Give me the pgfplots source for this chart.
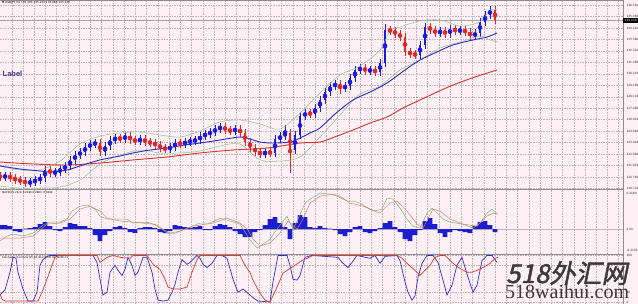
\documentclass[border=0pt]{standalone}
\usepackage{pgfplots}
\pgfplotsset{compat=1.18}
\usepackage{pgfplotstable}
\usepackage{fontspec}
\setmainfont{DejaVu Sans}
\newfontfamily\labfont{Liberation Sans}
\newfontfamily\cjk[FakeSlant=0.2,FakeBold=1.5]{Noto Sans CJK SC}
\newfontfamily\wserif{Liberation Serif}

\definecolor{bgc}{HTML}{FFF0F5}
\definecolor{gridc}{HTML}{BDB5B9}
\definecolor{upc}{HTML}{1A1AE6}
\definecolor{dnc}{HTML}{E02828}
\definecolor{mab}{HTML}{2A2ACC}
\definecolor{mar}{HTML}{D8342C}
\definecolor{bandc}{HTML}{8FC48F}
\definecolor{histc}{HTML}{1C1CD0}
\definecolor{macdg}{HTML}{6CBF6C}
\definecolor{macdr}{HTML}{E07A7A}
\definecolor{stb}{HTML}{2E2ED0}
\definecolor{str}{HTML}{E03A30}
\definecolor{sepc}{HTML}{8C8C8C}
\definecolor{labc}{HTML}{3B3B8A}
\definecolor{wmc}{HTML}{3A3A3A}

\pgfplotstableread{
x o h l c
5 120.76 121.20 120.41 120.85
30 120.21 120.65 119.86 120.30
35 120.30 120.83 119.95 120.48
40 120.48 121.02 120.13 120.67
45 120.67 121.75 120.32 121.40
55 121.12 121.57 120.77 121.22
60 121.22 121.84 120.87 121.49
65 121.49 122.12 121.14 121.77
70 121.77 122.67 121.42 122.32
75 122.32 123.12 121.97 122.77
80 122.77 123.40 122.42 123.05
85 123.05 123.86 122.70 123.51
90 123.51 124.13 123.16 123.78
95 123.78 124.22 123.43 123.87
105 123.05 123.95 122.70 123.60
110 123.60 124.50 123.25 124.15
115 124.15 124.68 123.80 124.33
125 124.24 124.86 123.89 124.51
140 124.06 124.59 123.71 124.24
170 123.32 123.86 122.97 123.51
175 123.51 124.22 123.16 123.87
185 123.78 124.31 123.43 123.96
190 123.96 124.41 123.61 124.06
195 124.06 124.50 123.71 124.15
200 124.15 124.86 123.80 124.51
205 124.51 125.05 124.16 124.70
210 124.70 125.23 124.35 124.88
215 124.88 125.51 124.53 125.16
220 125.16 125.69 124.81 125.34
235 124.97 125.51 124.62 125.16
265 122.86 123.40 122.51 123.05
275 122.96 124.59 122.61 124.24
280 124.24 124.86 123.89 124.51
285 124.51 125.52 124.16 124.79
295 123.23 124.96 122.88 124.61
300 124.61 126.70 124.26 126.35
305 126.35 126.97 126.00 126.62
315 126.53 127.43 126.18 127.08
320 127.08 128.16 126.73 127.81
325 127.81 128.89 127.46 128.54
330 128.54 129.44 128.19 129.09
335 129.09 129.63 128.74 129.28
345 128.91 129.44 128.56 129.09
350 129.09 130.18 128.74 129.83
355 129.83 130.91 129.48 130.56
360 130.56 131.09 130.21 130.74
370 130.47 130.91 130.12 130.56
380 130.38 131.55 130.03 131.20
385 131.20 134.77 130.85 134.22
420 131.93 133.20 131.58 132.85
425 132.85 134.85 132.50 134.50
440 133.95 134.48 133.60 134.13
450 133.86 134.66 133.51 134.31
460 134.13 134.57 133.78 134.22
475 133.67 134.30 133.32 133.95
480 133.95 135.31 133.60 134.96
485 134.96 135.95 134.61 135.60
490 135.60 136.40 135.25 136.05
}\upbars

\pgfplotstableread{
x o h l c
0 120.85 121.20 120.41 120.76
10 120.85 121.20 120.32 120.67
15 120.67 121.02 120.13 120.48
20 120.48 120.83 120.04 120.39
25 120.39 120.74 119.86 120.21
50 121.40 121.75 120.77 121.12
100 123.87 124.22 122.70 123.05
120 124.33 124.68 123.89 124.24
130 124.51 124.86 123.80 124.15
135 124.15 124.50 123.71 124.06
145 124.24 124.59 123.61 123.96
150 123.96 124.31 123.52 123.87
155 123.87 124.22 123.34 123.69
160 123.69 124.04 123.06 123.41
165 123.41 123.76 122.97 123.32
180 123.87 124.22 123.43 123.78
225 125.34 125.69 124.71 125.06
230 125.06 125.41 124.62 124.97
240 125.16 125.51 124.44 124.79
245 124.79 125.14 123.61 123.96
250 123.96 124.31 123.06 123.41
255 123.41 123.76 122.70 123.05
260 123.05 123.40 122.51 122.86
270 123.05 123.40 122.61 122.96
290 124.79 125.14 121.12 123.23
310 126.62 126.97 126.18 126.53
340 129.28 129.63 128.36 128.91
365 130.74 131.09 130.12 130.47
375 130.56 130.91 130.03 130.38
390 134.22 134.57 133.78 134.13
395 134.13 134.48 133.51 133.86
400 133.86 134.21 133.23 133.58
405 133.58 133.93 131.86 132.21
410 132.21 132.56 131.66 132.02
415 132.02 132.37 131.58 131.93
430 134.50 134.85 133.87 134.22
435 134.22 134.57 133.60 133.95
445 134.13 134.48 133.51 133.86
455 134.31 134.66 133.78 134.13
465 134.22 134.57 133.69 134.04
470 134.04 134.39 133.31 133.67
495 136.05 136.40 134.79 135.14
}\dnbars

\pgfplotstableread{
x v
0 0.046
5 0.046
10 0.034
15 -0.023
20 -0.034
25 0.006
30 0.011
35 0.023
40 0.057
45 0.080
50 0.034
55 -0.011
60 -0.023
65 0.023
70 0.069
75 0.057
80 0.034
85 0.034
90 0.011
95 -0.069
100 -0.137
105 -0.069
110 -0.023
115 0.023
120 0.034
125 0.011
130 -0.034
135 -0.046
140 0.011
145 0.023
150 0.023
155 0.011
160 -0.034
165 -0.046
170 -0.023
175 0.046
180 0.034
185 0.023
190 0.011
195 0.023
200 0.034
205 -0.011
210 -0.011
215 0.034
220 0.057
225 0.046
230 0.023
235 -0.023
240 -0.057
245 -0.092
250 -0.092
255 -0.034
260 -0.011
265 0.046
270 0.115
275 0.137
280 0.069
285 0.023
290 -0.115
295 0.069
300 0.160
305 0.137
310 0.023
315 0.011
320 0.034
325 0.011
330 0.006
335 -0.011
340 -0.057
345 -0.080
350 -0.034
355 0.023
360 0.034
365 -0.034
370 -0.046
375 -0.023
380 0.011
385 0.069
390 0.092
395 0.023
400 -0.034
405 -0.115
410 -0.137
415 -0.069
420 -0.011
425 0.092
430 0.126
435 0.057
440 -0.046
445 -0.092
450 -0.034
455 -0.011
460 -0.023
465 -0.034
470 -0.046
475 0.034
480 0.080
485 0.092
490 0.046
495 -0.034
}\hist

\pgfplotsset{panel/.style={scale only axis, width=623pt, xmin=0, xmax=623,
  axis line style={draw=none}, major tick length=0pt,
  xtick={11.7,22.94,...,620}, xticklabels={}, yticklabel pos=right,
  tick label style={font=\fontsize{2.9}{3.2}\selectfont, text=black!85},
  /pgf/number format/assume math mode=true,
  major grid style={gridc, line width=0.4pt, dash pattern=on 1.6pt off 1pt},
  xmajorgrids, clip=true},
  candle/.style={#1, only marks, mark=none, forget plot, error bars/.cd, y dir=both, y explicit, error mark=none}}

\begin{document}
\begin{tikzpicture}
\useasboundingbox (0,-304pt) rectangle (638pt,0pt);
\fill[bgc] (0,-304pt) rectangle (638pt,0pt);

% ---------------- main price panel
\begin{axis}[panel, at={(0pt,0pt)}, anchor=north west, height=189pt,
  ymin=119.66, ymax=136.97,
  ytick={119.71,120.76,121.81,122.86,123.91,124.96,126.01,127.06,128.11,129.16,130.21,131.26,132.31,133.36,134.41,135.46,136.51},
  ymajorgrids,
  yticklabel style={/pgf/number format/.cd, fixed, fixed zerofill, precision=3}]

\addplot[gray!70, line width=0.5pt, forget plot] coordinates {(0,135.14) (623,135.14)};

% wicks
\addplot[candle=upc, error bar style={line width=0.6pt, upc}]
  table[x=x, y expr={(\thisrow{h}+\thisrow{l})/2}, y error expr={(\thisrow{h}-\thisrow{l})/2}] {\upbars};
\addplot[candle=dnc, error bar style={line width=0.6pt, dnc}]
  table[x=x, y expr={(\thisrow{h}+\thisrow{l})/2}, y error expr={(\thisrow{h}-\thisrow{l})/2}] {\dnbars};
% bodies
\addplot[candle=upc, error bar style={line width=2.3pt, upc}]
  table[x=x, y expr={(\thisrow{o}+\thisrow{c})/2}, y error expr={abs(\thisrow{c}-\thisrow{o})/2+0.02}] {\upbars};
\addplot[candle=dnc, error bar style={line width=2.3pt, dnc}]
  table[x=x, y expr={(\thisrow{o}+\thisrow{c})/2}, y error expr={abs(\thisrow{c}-\thisrow{o})/2+0.02}] {\dnbars};

% Bollinger bands
\addplot[bandc, line width=0.5pt, smooth] coordinates {(0,121.77) (20,121.40) (40,121.40) (60,122.22) (80,123.78) (100,124.51) (120,124.79) (140,124.88) (160,124.61) (180,124.42) (200,124.97) (220,125.80) (240,125.98) (260,125.61) (280,125.16) (300,126.62) (320,128.45) (340,130.10) (360,130.92) (380,132.39) (390,134.13) (400,134.50) (420,135.05) (440,135.14) (460,134.59) (480,134.96) (490,136.05) (498,136.05)};
\addplot[bandc, line width=0.5pt, smooth] coordinates {(0,119.93) (20,119.75) (40,119.75) (60,119.84) (80,120.48) (100,121.95) (120,122.77) (140,123.23) (160,122.96) (180,122.96) (200,123.14) (220,123.60) (240,123.78) (260,122.32) (280,122.22) (300,122.59) (320,124.42) (340,126.44) (360,128.36) (380,129.09) (400,130.56) (420,131.47) (440,132.57) (460,133.12) (480,133.67) (490,133.31) (498,133.12)};
% moving averages
\addplot[mar, line width=0.9pt, smooth] coordinates {(0,122.13) (33,121.95) (67,121.86) (100,122.04) (133,122.32) (167,122.59) (200,122.96) (233,123.23) (267,123.41) (300,123.87) (320,123.96) (337,124.51) (353,125.06) (370,125.70) (387,126.25) (403,127.08) (420,127.81) (437,128.54) (453,129.18) (475,129.92) (497,130.56)};
\addplot[mab, line width=0.9pt, smooth] coordinates {(0,121.77) (20,121.49) (40,121.31) (50,121.22) (67,121.40) (80,121.77) (100,122.32) (120,122.68) (133,122.96) (150,123.23) (167,123.41) (185,123.69) (200,123.87) (220,124.15) (240,124.42) (250,124.24) (260,123.96) (273,123.87) (290,123.96) (300,124.33) (310,124.79) (320,125.25) (335,126.53) (353,127.81) (370,128.54) (387,129.37) (405,130.56) (420,131.47) (437,132.21) (453,132.85) (473,133.31) (487,133.58) (497,133.95)};
\end{axis}

% ---------------- MACD panel
\begin{axis}[panel, at={(0pt,-190pt)}, anchor=north west, height=64pt,
  ymin=-0.285, ymax=0.448, ytick={0.41,0,-0.24}, yticklabels={0.4180,0.00,-0.3150}]
\addplot[gridc, line width=0.4pt, forget plot] coordinates {(0,0) (623,0)};
\addplot[ybar, bar width=4.7pt, bar shift=0pt, fill=histc, draw=none] table[x=x, y=v] {\hist};
\addplot[macdg, line width=0.5pt] coordinates {(0,-0.137) (7,-0.080) (13,-0.057) (23,-0.080) (33,-0.046) (43,0.046) (50,0.080) (60,0.080) (67,0.115) (72,0.206) (80,0.263) (88,0.275) (95,0.229) (100,0.149) (107,0.115) (117,0.115) (127,0.115) (133,0.069) (147,0.080) (157,0.046) (167,-0.046) (173,-0.057) (187,0.011) (200,0.069) (210,0.069) (220,0.126) (230,0.092) (240,0.057) (245,-0.034) (250,-0.126) (257,-0.218) (263,-0.172) (270,-0.115) (277,0) (287,0.149) (290,0.069) (293,0) (298,0.115) (305,0.298) (310,0.344) (320,0.412) (330,0.401) (337,0.378) (347,0.321) (353,0.321) (360,0.298) (373,0.206) (382,0.229) (387,0.355) (393,0.344) (400,0.240) (407,0.115) (413,0.034) (420,0.011) (427,0.183) (432,0.240) (437,0.183) (443,0.115) (450,0.080) (463,0.057) (473,0.011) (480,0.069) (487,0.183) (492,0.229) (497,0.172)};
\addplot[macdr, line width=0.5pt] coordinates {(0,-0.103) (20,-0.103) (33,-0.080) (47,0.057) (60,0.069) (70,0.115) (80,0.229) (90,0.263) (100,0.206) (107,0.126) (120,0.092) (133,0.080) (153,0.057) (170,-0.046) (180,-0.023) (193,0.034) (213,0.069) (227,0.126) (240,0.069) (248,-0.011) (253,-0.115) (260,-0.195) (270,-0.160) (280,-0.046) (288,0.092) (297,0) (303,0.115) (310,0.298) (320,0.378) (333,0.401) (340,0.378) (350,0.298) (363,0.263) (380,0.183) (390,0.298) (397,0.321) (407,0.206) (417,0.057) (423,0.011) (433,0.229) (440,0.206) (450,0.115) (463,0.057) (477,0.034) (487,0.149) (493,0.183) (498,0.172)};
\end{axis}

% ---------------- Stochastic panel
\begin{axis}[panel, at={(0pt,-255pt)}, anchor=north west, height=49pt,
  ymin=-4.3, ymax=101, ytick={0,20,80,100}, ymajorgrids]
\addplot[stb, line width=0.7pt] coordinates {(0,15) (5,26) (10,64) (13,96) (16,94) (18,64) (23,28) (28,2) (33,2) (37,21) (40,79) (43,91) (47,98) (50,100) (93,100) (97,85) (100,49) (103,15) (107,21) (110,64) (115,79) (118,68) (122,57) (125,70) (128,96) (132,79) (135,57) (138,64) (143,96) (147,96) (152,64) (155,28) (158,4) (163,2) (168,4) (172,21) (175,38) (178,64) (182,91) (187,81) (190,85) (197,100) (200,94) (203,81) (207,74) (212,83) (217,100) (222,100) (227,94) (233,49) (238,21) (243,28) (250,15) (255,6) (258,2) (270,0) (273,43) (278,100) (287,100) (290,79) (293,49) (297,47) (300,57) (305,96) (312,100) (338,96) (342,85) (348,74) (352,85) (357,100) (370,94) (375,100) (380,83) (385,98) (397,100) (400,89) (405,43) (408,21) (412,4) (415,13) (418,53) (422,83) (427,100) (433,100) (438,85) (443,47) (447,15) (452,36) (457,79) (462,96) (463,89) (468,53) (473,21) (477,36) (482,89) (487,100) (492,100) (497,85)};
\addplot[str, line width=0.7pt] coordinates {(0,17) (2,6) (5,2) (38,2) (42,21) (47,49) (52,79) (55,96) (58,100) (97,100) (100,85) (107,96) (113,100) (120,96) (130,94) (133,100) (147,100) (153,81) (160,70) (165,49) (168,32) (173,28) (180,28) (187,32) (192,64) (197,91) (200,100) (240,100) (245,79) (250,64) (253,47) (260,19) (265,4) (270,0) (277,32) (283,62) (290,72) (295,79) (302,89) (307,94) (313,100) (397,100) (402,94) (407,83) (413,72) (420,57) (425,68) (430,79) (435,96) (440,100) (445,100) (452,85) (460,72) (467,64) (472,64) (477,68) (483,74) (490,83) (495,94) (498,96)};
\end{axis}

% frame / separators
\draw[sepc, line width=0.6pt] (0,-0.3pt) -- (623pt,-0.3pt);
\draw[sepc, line width=1.3pt] (0,-189.5pt) -- (623pt,-189.5pt);
\draw[sepc, line width=1.3pt] (0,-254.5pt) -- (623pt,-254.5pt);
\draw[sepc, line width=0.8pt] (623pt,0) -- (623pt,-304pt);

% bid price box
\fill[black] (623.4pt,-17.6pt) rectangle (638pt,-22.8pt);
\node[text=white, inner sep=0, font=\fontsize{2.9}{3.2}\selectfont] at (630.6pt,-20.2pt) {135.130};

% headers
\node[anchor=west, inner sep=0, font=\fontsize{2.8}{3.1}\selectfont] at (2pt,-3.2pt) {▼ USDJPY,H4 135.203 135.233 135.080 135.130};
\node[anchor=west, inner sep=0, font=\fontsize{2.6}{3}\selectfont] at (2pt,-192.8pt) {MACD(12,26,9) 0.2290 0.2880 -0.0490};
\node[anchor=west, inner sep=0, font=\fontsize{2.6}{3}\selectfont] at (2pt,-257.6pt) {Stochastic Oscillator(25,60,40,2,0.20) 61.98 69.71};

% label
\node[anchor=west, inner sep=0, text=labc, font=\labfont\bfseries\fontsize{7.5}{8}\selectfont] at (2.5pt,-73.8pt) {Label};

% watermark
\node[anchor=base west, inner sep=0, text=wmc, font=\cjk\fontsize{26}{27}\selectfont] at (506pt,-283pt) {518外汇网};
\node[anchor=base west, inner sep=0, text=wmc, font=\wserif\fontsize{20}{21}\selectfont] at (505pt,-298.5pt) {518waihui.com};
\end{tikzpicture}
\end{document}
